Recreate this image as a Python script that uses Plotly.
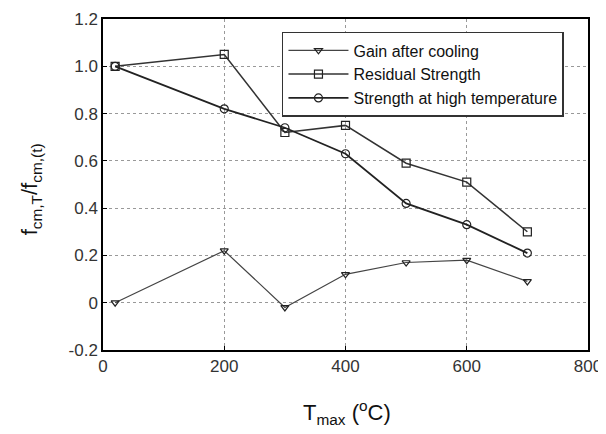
import plotly.graph_objects as go

temps = [20, 200, 300, 400, 500, 600, 700]
gain_after_cooling = [0.0, 0.22, -0.02, 0.12, 0.17, 0.18, 0.09]
residual_strength = [1.0, 1.05, 0.72, 0.75, 0.59, 0.51, 0.30]
strength_high_temp = [1.0, 0.82, 0.74, 0.63, 0.42, 0.33, 0.21]

y_tickvals = [-0.2, 0, 0.2, 0.4, 0.6, 0.8, 1.0, 1.2]
y_ticktext = ["-0.2", "0", "0.2", "0.4", "0.6", "0.8", "1.0", "1.2"]
x_tickvals = [0, 200, 400, 600, 800]

FONT = "Liberation Sans, Arial, sans-serif"

fig = go.Figure()
fig.add_trace(go.Scatter(
    x=temps, y=gain_after_cooling, name="Gain after cooling",
    mode="lines+markers",
    line=dict(color="#444", width=1.2),
    marker=dict(symbol="triangle-down-open", size=7, color="#222", line=dict(width=1.2)),
))
fig.add_trace(go.Scatter(
    x=temps, y=residual_strength, name="Residual Strength",
    mode="lines+markers",
    line=dict(color="#333", width=1.5),
    marker=dict(symbol="square-open", size=8, color="#222", line=dict(width=1.2)),
))
fig.add_trace(go.Scatter(
    x=temps, y=strength_high_temp, name="Strength at high temperature",
    mode="lines+markers",
    line=dict(color="#222", width=1.8),
    marker=dict(symbol="circle-open", size=8, color="#222", line=dict(width=1.2)),
))

axis_common = dict(
    showline=True, linecolor="black", linewidth=1.5, mirror=True,
    showgrid=True, gridcolor="#999", griddash="dot", gridwidth=1,
    ticks="inside", ticklen=4, tickcolor="black",
    zeroline=False, automargin=False,
    tickfont=dict(family=FONT, size=17, color="#333"),
)

fig.update_xaxes(range=[0, 800], tickvals=x_tickvals, **axis_common)
fig.update_yaxes(range=[-0.2, 1.2], tickvals=y_tickvals, ticktext=y_ticktext, **axis_common)

fig.add_annotation(
    text="T<sub>max</sub> (<sup>o</sup>C)", xref="paper", yref="paper",
    x=0.503, y=-0.19, xanchor="center", yanchor="middle", showarrow=False,
    font=dict(family=FONT, size=22, color="#111"),
)
fig.add_annotation(
    text="f<sub>cm,T</sub>/f<sub>cm,(t)</sub>", xref="paper", yref="paper",
    x=-0.148, y=0.486, xanchor="center", yanchor="middle", showarrow=False,
    textangle=-90,
    font=dict(family=FONT, size=22, color="#111"),
)

fig.update_layout(
    width=606, height=434,
    margin=dict(l=95, r=26, t=11, b=92),
    paper_bgcolor="white", plot_bgcolor="white",
    showlegend=True,
    legend=dict(
        x=0.369, y=0.961, xanchor="left", yanchor="top",
        bordercolor="#333", borderwidth=1.5, bgcolor="white",
        font=dict(family=FONT, size=16, color="#111"),
        tracegroupgap=0, itemwidth=60,
    ),
)

fig.write_html("out.html")
